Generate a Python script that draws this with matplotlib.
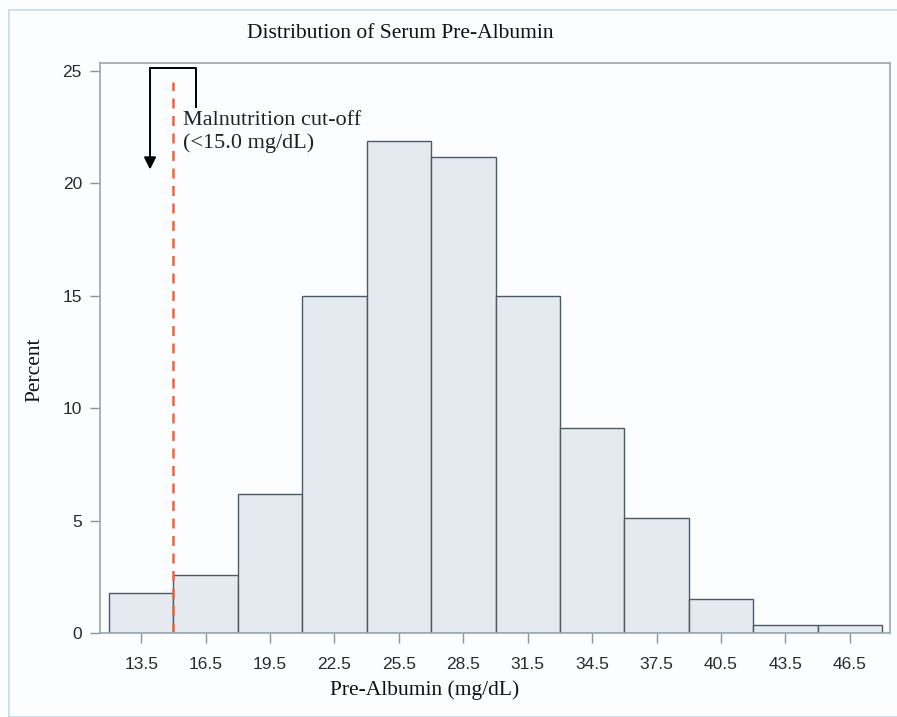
import matplotlib.pyplot as plt
from matplotlib.patches import Rectangle

# histogram data (percent per 3 mg/dL bin)
bin_mid = [13.5, 16.5, 19.5, 22.5, 25.5, 28.5, 31.5, 34.5, 37.5, 40.5, 43.5, 46.5]
percent = [1.8, 2.6, 6.2, 15.0, 21.9, 21.2, 15.0, 9.1, 5.1, 1.5, 0.35, 0.35]
bin_width = 3
cutoff = 15.0
y_ticks = [0, 5, 10, 15, 20, 25]

serif = ['Liberation Serif', 'DejaVu Serif']
sans = ['Liberation Sans', 'DejaVu Sans']

fig = plt.figure(figsize=(8.97, 7.17), dpi=100)
fig.patch.set_facecolor('#fcfdfe')
# light outer frame
fig.patches.append(Rectangle((9/897, 0), 1, 1 - 10/717, transform=fig.transFigure,
                             fill=False, edgecolor='#c9d9e4', linewidth=1.2))

ax = fig.add_axes([100/897, 84/717, 790/897, 570/717])
ax.set_facecolor('#fcfdfe')
ax.bar(bin_mid, percent, width=bin_width, color='#e5e9f0', edgecolor='#4e5a63', linewidth=1.0)

ax.set_xlim(11.58, 48.37)
ax.set_ylim(0, 25.36)
ax.set_xticks(bin_mid)
ax.set_xticklabels([f'{v:.1f}' for v in bin_mid], family=sans, fontsize=12.5, color='#2a2a2a')
ax.set_yticks(y_ticks)
ax.set_yticklabels([str(v) for v in y_ticks], family=sans, fontsize=12.5, color='#2a2a2a')
ax.tick_params(axis='x', length=7, color='#8a969e', width=1, pad=10)
ax.tick_params(axis='y', length=7, color='#8a969e', width=1, pad=6)
for s in ax.spines.values():
    s.set_color('#9aa6ae')
    s.set_linewidth(1.2)

# cut-off line
ax.plot([cutoff, cutoff], [0, 24.5], color='#f0643c', linestyle=(0, (4, 3)), linewidth=1.8)

# bracket + arrow
ax.plot([16.05, 16.05, 13.91], [23.4, 25.13, 25.13], color='black', linewidth=1.4)
ax.annotate('', xy=(13.91, 20.5), xytext=(13.91, 25.2),
            arrowprops=dict(arrowstyle='-|>', color='black', lw=1.4, mutation_scale=18))
ax.text(15.45, 22.3, 'Malnutrition cut-off\n(<15.0 mg/dL)', family=serif, fontsize=16,
        color='#222222', va='center', ha='left', linespacing=1.25)

fig.text(400/897, 1 - 33/717, 'Distribution of Serum Pre-Albumin', family=serif,
         fontsize=15.5, ha='center', va='center', color='#111111')
fig.text(425/897, 1 - 690/717, 'Pre-Albumin (mg/dL)', family=serif,
         fontsize=15.5, ha='center', va='center', color='#111111')
fig.text(35/897, 1 - 370/717, 'Percent', family=serif, rotation=90,
         fontsize=15.5, ha='center', va='center', color='#111111')

fig.savefig('out.png', dpi=100, facecolor=fig.get_facecolor())
